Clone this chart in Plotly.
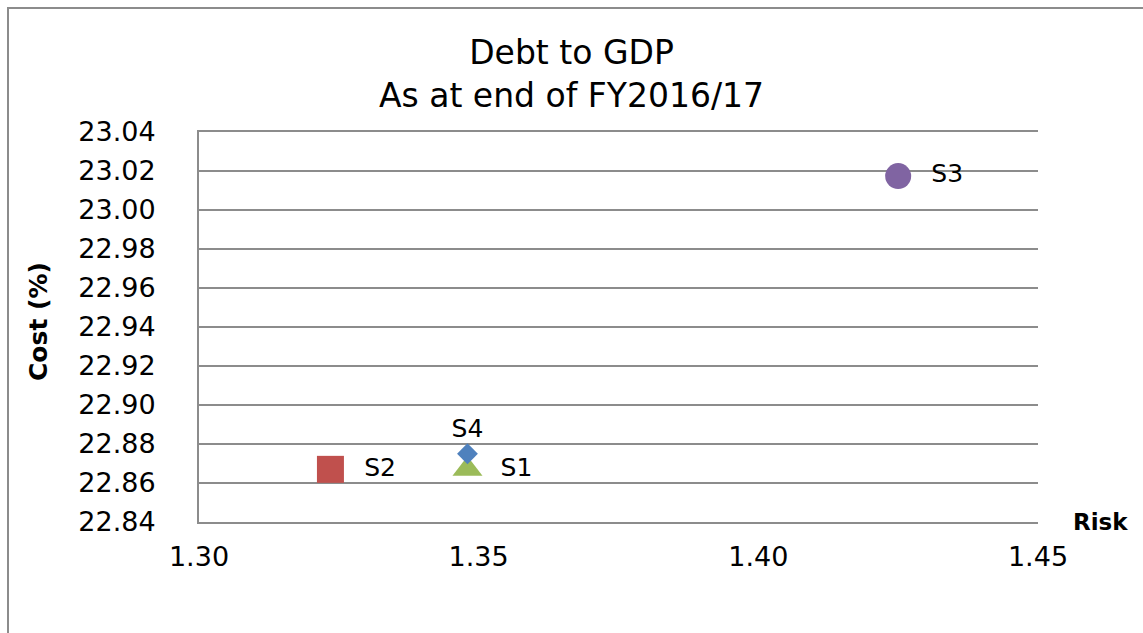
import plotly.graph_objects as go

# Data
series_names = ["S1", "S2", "S3", "S4"]
risk = [1.348, 1.3235, 1.425, 1.348]
cost = [22.867, 22.867, 23.0174, 22.875]
colors = ["#9BBB59", "#C0504D", "#8064A2", "#4F81BD"]
symbols = ["triangle-up", "square", "circle", "diamond"]
sizes = [26, 27, 26, 16]
text_pos = ["middle right", "middle right", "middle right", "top center"]
label_text = ["  S1", "  S2", "  S3", "S4"]

x_ticks = [1.30, 1.35, 1.40, 1.45]
y_ticks = [22.84, 22.86, 22.88, 22.90, 22.92, 22.94, 22.96, 22.98, 23.00, 23.02, 23.04]

W, H = 1143, 633
L, R, T, B = 199, W - 1038, 132, H - 522

fig = go.Figure()
for i, name in enumerate(series_names):
    fig.add_trace(go.Scatter(
        x=[risk[i]], y=[cost[i]], mode="markers+text", name=name,
        marker=dict(symbol=symbols[i], size=sizes[i], color=colors[i], line=dict(width=0)),
        text=[label_text[i]], textposition=text_pos[i],
        textfont=dict(family="DejaVu Sans", size=25, color="#000000"),
        showlegend=False, cliponaxis=False,
    ))

pw, ph = W - L - R, H - T - B
def px_x(p):
    return (p - L) / pw
def px_y(p):
    return (H - B - p) / ph

fig.update_layout(
    width=W, height=H,
    margin=dict(l=L, r=R, t=T, b=B, pad=0),
    paper_bgcolor="white", plot_bgcolor="white",
    title=dict(text="Debt to GDP<br>As at end of FY2016/17",
               x=0.5, xanchor="center", xref="container",
               y=1 - 64 / H, yanchor="middle", yref="container",
               font=dict(family="DejaVu Sans", size=33, color="#000000")),
    xaxis=dict(range=[1.30, 1.45], tickvals=x_ticks, ticktext=[f"{v:.2f}" for v in x_ticks],
               showgrid=False, zeroline=False, showline=True, mirror=True,
               linecolor="#8C8C8C", linewidth=2,
               ticks="", ticklabelstandoff=10,
               tickfont=dict(family="DejaVu Sans", size=27, color="#000000")),
    yaxis=dict(range=[22.84, 23.04], tickvals=y_ticks, ticktext=[f"{v:.2f}" for v in y_ticks],
               showgrid=True, gridcolor="#8C8C8C", gridwidth=2, zeroline=False,
               showline=True, linecolor="#8C8C8C", linewidth=2,
               ticks="", ticklabelstandoff=36,
               tickfont=dict(family="DejaVu Sans", size=27, color="#000000")),
    annotations=[
        dict(text="<b>Risk</b>", xref="paper", yref="paper", x=px_x(1100), y=0,
             xanchor="center", yanchor="middle", showarrow=False,
             font=dict(family="DejaVu Sans", size=23, color="#000000")),
        dict(text="<b>Cost (%)</b>", xref="paper", yref="paper", x=px_x(38), y=px_y(322),
             xanchor="center", yanchor="middle", showarrow=False, textangle=-90,
             font=dict(family="DejaVu Sans", size=25, color="#000000")),
    ],
    shapes=[
        dict(type="path", xref="paper", yref="paper",
             path=f"M {px_x(8)} {px_y(H + 5)} L {px_x(8)} {px_y(8)} L {px_x(W + 5)} {px_y(8)}",
             line=dict(color="#8C8C8C", width=2)),
    ],
)

fig.write_html("out.html")
